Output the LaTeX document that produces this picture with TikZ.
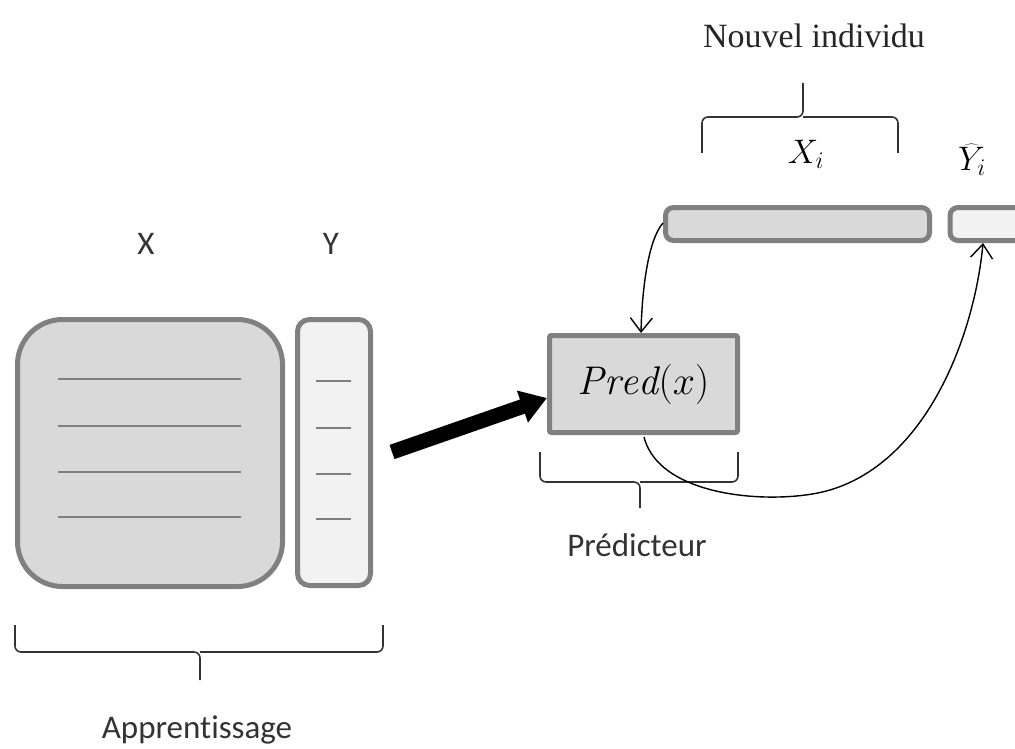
\RequirePackage{fix-cm}
\documentclass[tikz,border=0pt]{standalone}
\usepackage{fontspec}
\setsansfont{Carlito}[Ligatures=NoCommon]
\newfontfamily\timesfont{Liberation Serif}
\usetikzlibrary{arrows.meta}
\definecolor{edgegray}{RGB}{128,128,128}
\definecolor{darkfill}{RGB}{217,217,217}
\definecolor{lightfill}{RGB}{242,242,242}
\tikzset{
  block/.style={draw=edgegray, line width=5pt, inner sep=0pt},
  rule/.style={draw=edgegray, line width=1.6pt},
  bracket/.style={draw=black!80, line width=1.6pt, rounded corners=6pt},
  link/.style={draw=black, line width=1.4pt, -{Straight Barb[length=14pt,width=22pt,line width=1.4pt]}},
  sanslabel/.style={font=\sffamily\fontsize{33}{38}\selectfont, text=black!80},
  mathlabel/.style={font=\fontsize{34}{38}\selectfont, inner sep=1pt},
}
\begin{document}
\begin{tikzpicture}[x=1pt,y=-1pt]
\clip (0,0) rectangle (1015,749);
\fill[white] (0,0) rectangle (1015,749);

% learning data: feature matrix and target column
\node[block, fill=darkfill, rounded corners=45pt, minimum width=265pt, minimum height=267pt] (X) at (150,453) {};
\node[block, fill=lightfill, rounded corners=12pt, minimum width=73pt, minimum height=266pt] (Y) at (334,452.5) {};
\foreach \yy in {379,426,472,517} {
  \draw[rule] (58,\yy) -- (241,\yy);
  \draw[rule] (316,\yy+2) -- (351,\yy+2);
}
\node[sanslabel] (lx) at (146,244) {X};
\node[sanslabel] (ly) at (331,244) {Y};

% brace over the training set
\coordinate (ta) at (200,680);
\draw[bracket] (15,625) -- (15,652) -- (200,652) -- (ta);
\draw[bracket] (383,625) -- (383,652) -- (200,652);
\node[sanslabel] (app) at (197,730) {Apprentissage};

% predictor
\node[block, fill=darkfill, rounded corners=2pt, minimum width=188pt, minimum height=97pt, font=\fontsize{40}{44}\selectfont] (P) at (643.5,384) {$\mathit{Pred}(x)$};
\coordinate (tp) at (640,508);
\draw[bracket] (540,452) -- (540,482) -- (640,482) -- (tp);
\draw[bracket] (738,452) -- (738,482) -- (640,482);
\node[sanslabel] (pl) at (637,545) {Prédicteur};

% thick arrow from the training set to the predictor
\coordinate (ts) at (392,452);
\draw[line width=15pt, -{Triangle[length=26pt,width=32pt]}] (ts) -- (P.west |- 0,398);

% new individual
\node[block, fill=darkfill, rounded corners=8pt, minimum width=264pt, minimum height=33pt] (Xi) at (797.5,224) {};
\node[block, fill=lightfill, rounded corners=8pt, minimum width=80pt, minimum height=33pt, anchor=west] (Yh) at (947.5,224) {};
\node[mathlabel] (lxi) at (806,154) {$X_i$};
\node[mathlabel] (lyh) at (972,160) {$\widehat{Y}_i$};
\coordinate (tn) at (803,83);
\draw[bracket] (702,153) -- (702,117) -- (803,117) -- (tn);
\draw[bracket] (898,153) -- (898,117) -- (803,117);
\node[font=\timesfont\fontsize{34}{38}\selectfont, text=black!85] (ni) at (814,36) {Nouvel individu};

% flow of the new individual through the predictor
\draw[link] (663,223) .. controls (648,240) and (642,290) .. (P.north -| 641,0);
\draw[link] (644,437) .. controls (660,500) and (780,505) .. (830,490)
  .. controls (930,460) and (975,330) .. (Yh.south -| 983,0);
\end{tikzpicture}
\end{document}
